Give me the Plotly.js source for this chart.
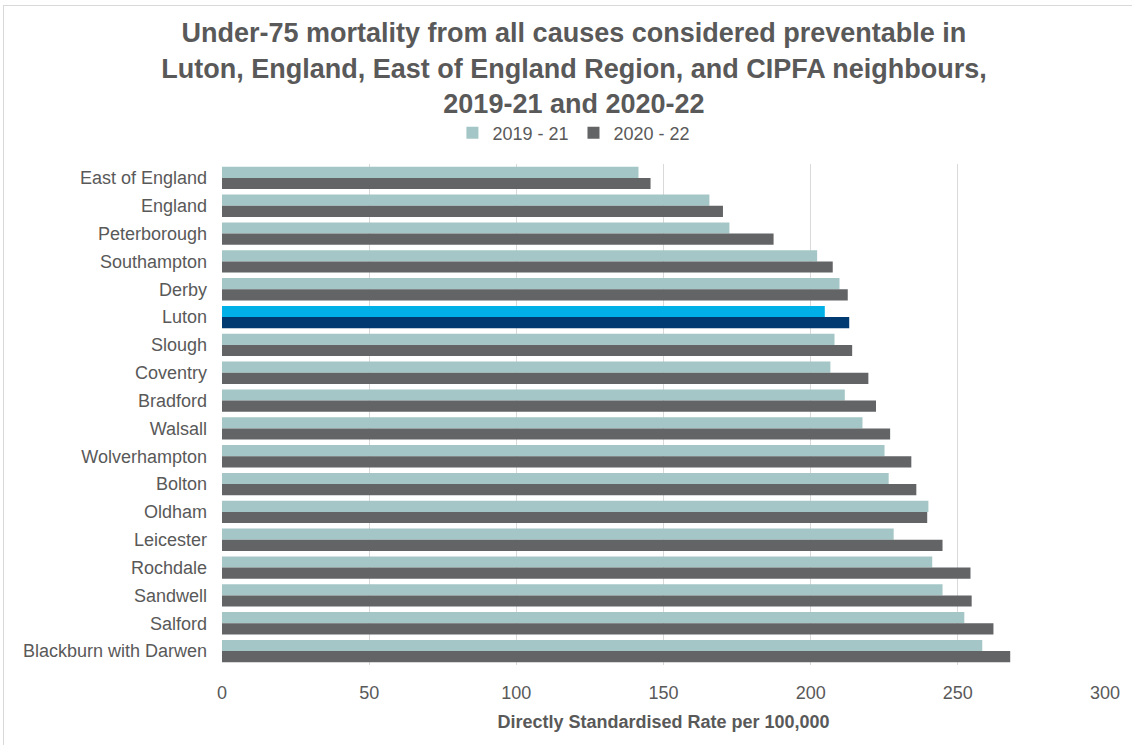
<!DOCTYPE html>
<html><head><meta charset="utf-8">
<script src="https://cdn.plot.ly/plotly-3.0.1.min.js"></script>
<style>
html,body{margin:0;padding:0;background:#fff;}
#frame{position:absolute;left:3px;top:5px;width:1140px;height:760px;border:1px solid #d9d9d9;box-sizing:border-box;pointer-events:none;}
#chart{position:absolute;left:0;top:0;width:1132px;height:745px;}
</style></head>
<body>
<div id="chart"></div>
<div id="frame"></div>
<script>
const categories = ["East of England","England","Peterborough","Southampton","Derby","Luton","Slough","Coventry","Bradford","Walsall","Wolverhampton","Bolton","Oldham","Leicester","Rochdale","Sandwell","Salford","Blackburn with Darwen"];
const rate2019_21 = [141.5,165.6,172.4,202.2,209.8,204.8,208.1,206.7,211.6,217.6,225.1,226.5,240.0,228.2,241.3,244.8,252.2,258.3];
const rate2020_22 = [145.6,170.2,187.4,207.5,212.6,213.1,214.1,219.6,222.2,227.0,234.2,235.9,239.6,244.8,254.3,254.7,262.1,267.8];
const seriesNames = ["2019 - 21","2020 - 22"];
const highlight = "Luton";

const c1 = categories.map(c => c === highlight ? "#00b0e6" : "#a5c6c6");
const c2 = categories.map(c => c === highlight ? "#003a70" : "#636466");

const traces = [
  {type:"bar", orientation:"h", name:seriesNames[0], y:categories, x:rate2019_21, marker:{color:c1}},
  {type:"bar", orientation:"h", name:seriesNames[1], y:categories, x:rate2020_22, marker:{color:c2}}
];
const font = "Liberation Sans, Arial, sans-serif";
const layout = {
  width:1132, height:745,
  margin:{l:222,r:27,t:164,b:80},
  paper_bgcolor:"#fff", plot_bgcolor:"#fff",
  barmode:"group", bargap:0.2, bargroupgap:0,
  font:{family:font, color:"#595959", size:18},
  title:{text:"Under-75 mortality from all causes considered preventable in<br>Luton, England, East of England Region, and CIPFA neighbours,<br>2019-21 and 2020-22",
    font:{family:font, size:27, color:"#595959", weight:"bold"}, x:0.507, xanchor:"center", y:0.943, yanchor:"top"},
  legend:{orientation:"h", xref:"container", yref:"container", x:0.507, xanchor:"center", y:1-133/745, yanchor:"middle",
    font:{size:18, color:"#595959"}, traceorder:"normal", itemwidth:30},
  xaxis:{range:[0,300], dtick:50, showgrid:true, gridcolor:"#d9d9d9", zeroline:false, showline:false,
    ticks:"", tickfont:{size:18, color:"#595959"}, ticklabelstandoff:15,
    title:{text:"Directly Standardised Rate per 100,000", font:{size:18, color:"#595959", weight:"bold"}, standoff:13}},
  yaxis:{autorange:"reversed", ticks:"", showline:false, tickfont:{size:18, color:"#595959"}, ticklabelstandoff:14},
  showlegend:true
};
Plotly.newPlot("chart", traces, layout, {displayModeBar:false, staticPlot:true});
</script>
</body></html>
